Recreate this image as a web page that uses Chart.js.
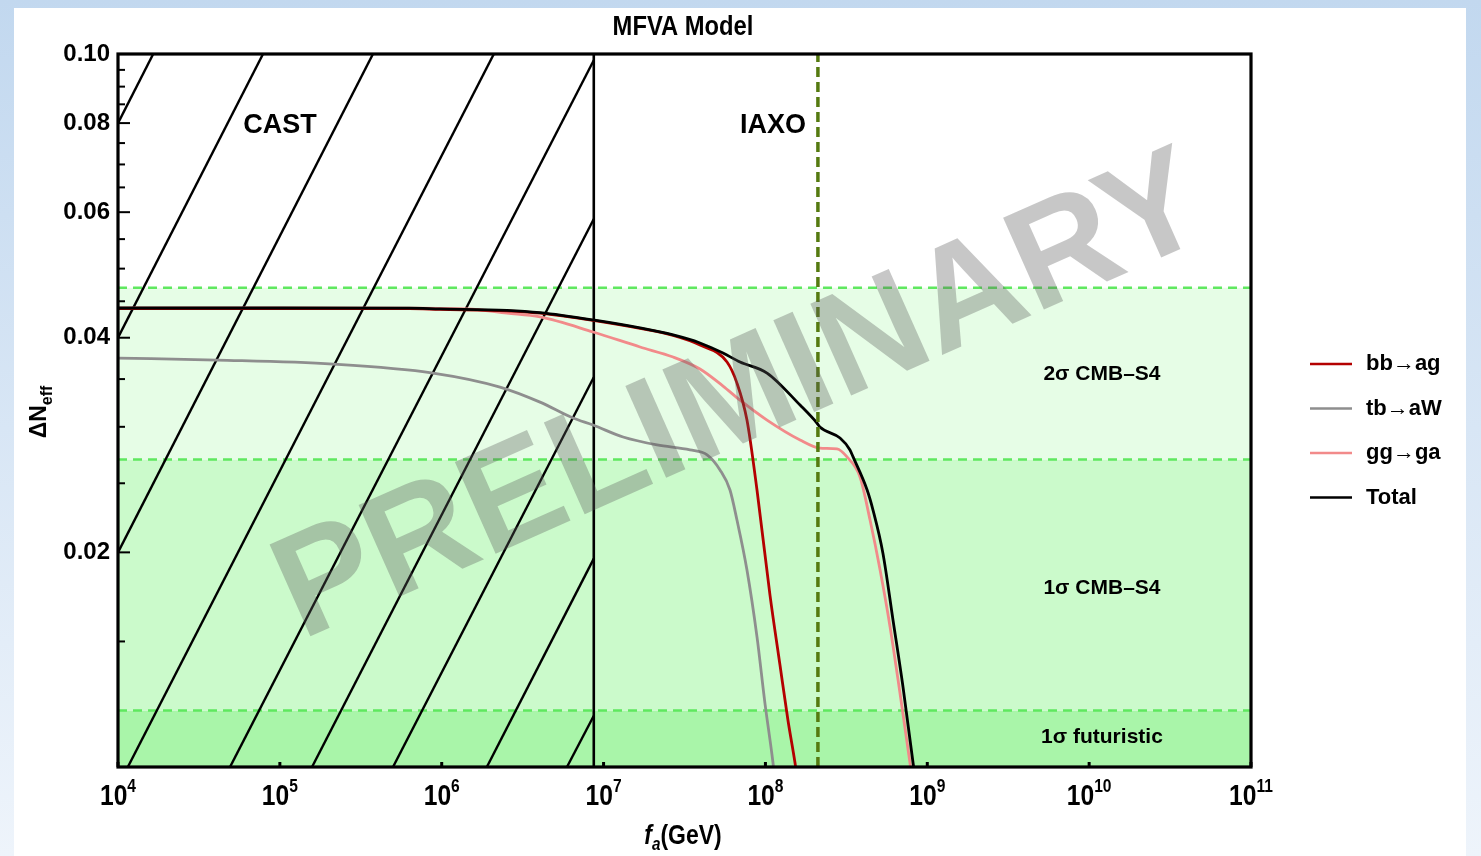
<!DOCTYPE html>
<html>
<head>
<meta charset="utf-8">
<script src="https://cdn.jsdelivr.net/npm/chart.js@4.4.0/dist/chart.umd.min.js"></script>
<style>
html,body{margin:0;padding:0;}
body{width:1481px;height:856px;overflow:hidden;position:relative;background:linear-gradient(to bottom,#c2d8ef,#eef4fb);}
#sheet{position:absolute;left:14px;top:8px;width:1452px;height:848px;background:#fff;}
#chartMFVA{position:absolute;left:0;top:0;}
</style>
</head>
<body>
<div id="sheet"></div>
<canvas id="chartMFVA" width="1481" height="856"></canvas>
<script>
// curvas (f_a en GeV, Delta N_eff)
var faTotal=[1e4,1e5,6.31e5,9.75e5,2.53e6,4.05e6,8.61e6,1.68e7,2.69e7,3.94e7,5.47e7,6.97e7,1.023e8,1.637e8,2.08e8,2.17e8,2.89e8,3.33e8,3.48e8,4.25e8,4.62e8,5.32e8,6.14e8,7.08e8,8.17e8,8.51e8];
var dnTotal=[0.04403,0.04403,0.0440,0.0439,0.0437,0.04337,0.04236,0.04128,0.04036,0.03933,0.03807,0.03698,0.03569,0.03218,0.03037,0.02998,0.02893,0.02784,0.02722,0.02446,0.02293,0.01995,0.01608,0.01295,0.01013,0.0095];
var faBb=[1e4,1e5,6.31e5,9.75e5,2.53e6,4.05e6,8.61e6,1.68e7,2.69e7,3.94e7,5.79e7,6.67e7,7.69e7,8.87e7,1.067e8,1.230e8,1.377e8,1.524e8,1.585e8];
var dnBb=[0.04396,0.04396,0.04393,0.04383,0.04363,0.0433,0.0423,0.04122,0.0403,0.03907,0.03698,0.03455,0.03066,0.02446,0.01742,0.01390,0.01164,0.01013,0.0095];
var faGg=[1e4,1e5,6.31e5,1.43e6,2.53e6,4.05e6,8.61e6,1.68e7,2.69e7,3.94e7,5.47e7,6.97e7,1.023e8,1.637e8,2.17e8,2.77e8,3.19e8,3.84e8,4.43e8,5.11e8,5.89e8,6.78e8,7.82e8,8.13e8];
var dnGg=[0.04403,0.04403,0.0440,0.0439,0.0433,0.04277,0.04075,0.03882,0.03758,0.03616,0.03422,0.03270,0.03066,0.02875,0.02801,0.02793,0.02722,0.02551,0.02220,0.01889,0.01572,0.01270,0.01013,0.0095];
var faTb=[1e4,4.09e4,2.13e5,8.83e5,2.29e6,4.05e6,6.47e6,8.61e6,1.32e7,2.14e7,3.42e7,4.36e7,5.24e7,6.04e7,6.67e7,7.69e7,8.87e7,9.93e7,1.114e8,1.148e8];
var dnTb=[0.03746,0.03722,0.03674,0.03569,0.03411,0.03249,0.03086,0.03017,0.02903,0.02829,0.02784,0.02740,0.02610,0.02446,0.02220,0.01889,0.01522,0.01229,0.01013,0.0095];

// bandas CMB-S4 y limites experimentales
var bandX=[1e4,1e11];
var bandEdges=[0.047,0.027,0.012];
var bandNames=['2\u03c3 CMB\u2013S4','1\u03c3 CMB\u2013S4','1\u03c3 futuristic'];
var castLimit=8.7e6;
var iaxoLimit=2.11e8;
var hatchFa=[[1e4,1.65e4],[1e4,7.87e4],[1e4,3.76e5],[1.15e4,2.10e6],[4.92e4,8.7e6],[1.58e5,8.7e6],[5.0e5,8.7e6],[1.9e6,8.7e6],[5.94e6,8.7e6]];
var hatchDn=[[0.08,0.1],[0.04,0.1],[0.02,0.1],[0.01,0.1],[0.01,0.098],[0.01,0.0587],[0.01,0.0352],[0.01,0.0196],[0.01,0.0118]];

// ejes
var xDecades=[1e4,1e5,1e6,1e7,1e8,1e9,1e10,1e11];
var xExp=['4','5','6','7','8','9','10','11'];
var yTicks=[0.01,0.015,0.02,0.025,0.03,0.035,0.04,0.045,0.05,0.055,0.06,0.065,0.07,0.075,0.08,0.085,0.09,0.095,0.1];
var yMajor=[0.02,0.04,0.06,0.08,0.1];
var yLabels=['0.02','0.04','0.06','0.08','0.10'];

var serieNames=['bb\u2192ag','tb\u2192aW','gg\u2192ga','Total'];
var serieColors=['#b40000','#8e8e8e','#f28a8a','#000000'];

var FONT="'Liberation Sans', Arial, sans-serif";

function pts(xs,ys){
	return xs.map(function(x,i){ return {x:x,y:ys[i]}; });
}

var datasets=[];
var bandColors=['#e6fde6','#cbfacb','#a9f5a9'];
var bandFill=['+1','+1','start'];
for(var b=0;b<bandEdges.length;b++){
	datasets.push({data:pts(bandX,[bandEdges[b],bandEdges[b]]),borderColor:'#5fe85f',borderWidth:2.5,borderDash:[9,6],
		backgroundColor:bandColors[b],fill:bandFill[b],pointRadius:0,order:50});
}
for(var h=0;h<hatchFa.length;h++){
	datasets.push({data:pts(hatchFa[h],hatchDn[h]),borderColor:'#000',borderWidth:2.4,fill:false,pointRadius:0,order:30});
}
datasets.push({data:pts([castLimit,castLimit],[0.01,0.1]),borderColor:'#000',borderWidth:2.6,fill:false,pointRadius:0,order:29});
datasets.push({data:pts([iaxoLimit,iaxoLimit],[0.01,0.1]),borderColor:'#557a10',borderWidth:3.5,borderDash:[10,5],fill:false,pointRadius:0,order:1});
var curves=[[faBb,dnBb,0,3],[faTb,dnTb,1,5],[faGg,dnGg,2,4],[faTotal,dnTotal,3,2]];
curves.forEach(function(c){
	datasets.push({label:serieNames[c[2]],data:pts(c[0],c[1]),borderColor:serieColors[c[2]],borderWidth:2.8,fill:false,
		pointRadius:0,cubicInterpolationMode:'monotone',order:c[3]});
});

function drawRich(ctx,parts,x,y,align,sx){
	// parts: [texto, fuente, dy]
	ctx.save();
	var w=0;
	parts.forEach(function(p){ ctx.font=p[1]; w+=ctx.measureText(p[0]).width; });
	ctx.translate(x,y);
	ctx.scale(sx||1,1);
	var cx=align=='center'?-w/2:0;
	ctx.textBaseline='alphabetic';
	ctx.textAlign='left';
	parts.forEach(function(p){ ctx.font=p[1]; ctx.fillText(p[0],cx,p[2]||0); cx+=ctx.measureText(p[0]).width; });
	ctx.restore();
}

var decoPlugin={
	id:'deco',
	afterDatasetsDraw:function(chart){
		var ctx=chart.ctx, a=chart.chartArea, xs=chart.scales.x, ys=chart.scales.y;
		ctx.save();
		// marco
		ctx.strokeStyle='#000';
		ctx.lineWidth=3.2;
		ctx.strokeRect(a.left,a.top,a.right-a.left,a.bottom-a.top);
		// ticks internos
		ctx.lineWidth=2;
		yTicks.forEach(function(v){
			var py=ys.getPixelForValue(v);
			var len=yMajor.indexOf(v)>=0?12:7;
			ctx.beginPath(); ctx.moveTo(a.left,py); ctx.lineTo(a.left+len,py); ctx.stroke();
		});
		ctx.lineWidth=3;
		xDecades.forEach(function(v){
			var px=xs.getPixelForValue(v);
			ctx.beginPath(); ctx.moveTo(px,a.bottom); ctx.lineTo(px,a.bottom-5); ctx.stroke();
		});
		// marca de agua
		ctx.save();
		ctx.translate(742,400);
		ctx.rotate(-24*Math.PI/180);
		ctx.font='bold 146px '+FONT;
		ctx.fillStyle='rgba(90,90,90,0.34)';
		ctx.textAlign='center';
		ctx.textBaseline='middle';
		ctx.fillText('PRELIMINARY',0,0);
		ctx.restore();
		// etiquetas
		ctx.fillStyle='#000';
		ctx.textAlign='center';
		ctx.textBaseline='middle';
		ctx.font='bold 27px '+FONT;
		ctx.fillText('CAST',280,126);
		ctx.fillText('IAXO',773,126);
		ctx.font='bold 21px '+FONT;
		var bx=xs.getPixelForValue(1.2e10);
		var bandLabelDn=[0.0356,0.0178,0.0110];
		for(var i=0;i<bandNames.length;i++){
			ctx.fillText(bandNames[i],bx,ys.getPixelForValue(bandLabelDn[i]));
		}
		ctx.restore();
	},
	afterDraw:function(chart){
		var ctx=chart.ctx, xs=chart.scales.x;
		ctx.save();
		ctx.fillStyle='#000';
		// titulo
		drawRich(ctx,[['MFVA Model','bold 27px '+FONT]],683,35,'center',0.88);
		// etiquetas eje x
		xDecades.forEach(function(v,i){
			drawRich(ctx,[['10','bold 30px '+FONT,0],[xExp[i],'bold 19px '+FONT,-13]],xs.getPixelForValue(v),805,'center',0.82);
		});
		// titulo eje x
		drawRich(ctx,[['f','italic bold 27px '+FONT,0],['a','italic bold 18px '+FONT,6],['(GeV)','bold 27px '+FONT,0]],683,844,'center',0.85);
		// titulo eje y
		ctx.save();
		ctx.translate(46,412);
		ctx.rotate(-Math.PI/2);
		drawRich(ctx,[['\u0394N','bold 23px '+FONT,0],['eff','bold 16px '+FONT,6]],0,0,'center',1);
		ctx.restore();
		// leyenda
		for(var k=0;k<serieNames.length;k++){
			var ly=364+k*44.5;
			ctx.strokeStyle=serieColors[k];
			ctx.lineWidth=2.6;
			ctx.beginPath(); ctx.moveTo(1310,ly); ctx.lineTo(1352,ly); ctx.stroke();
			ctx.font='bold 22px '+FONT;
			ctx.textAlign='left';
			ctx.textBaseline='middle';
			ctx.fillText(serieNames[k],1366,ly);
		}
		ctx.restore();
	}
};

var chartMFVA=new Chart(document.getElementById('chartMFVA'),{
	type:'line',
	data:{datasets:datasets},
	options:{
		responsive:false,
		animation:false,
		layout:{padding:{left:0,right:230,top:54,bottom:0}},
		plugins:{
			legend:{display:false},
			tooltip:{enabled:false},
			filler:{drawTime:'beforeDatasetsDraw'}
		},
		scales:{
			x:{
				type:'logarithmic',min:1e4,max:1e11,
				grid:{display:false},border:{display:false},
				ticks:{display:false},
				afterFit:function(s){ s.height=89; }
			},
			y:{
				type:'logarithmic',min:0.01,max:0.1,
				grid:{display:false},border:{display:false},
				afterBuildTicks:function(s){ s.ticks=yTicks.map(function(v){ return {value:v}; }); },
				afterFit:function(s){ s.width=118; },
				ticks:{autoSkip:false,padding:0,color:'#000',font:{family:FONT,size:24,weight:'bold'},
					callback:function(v){ var i=yMajor.indexOf(v); return i<0?'':yLabels[i]; }}
			}
		}
	},
	plugins:[decoPlugin]
});
</script>
</body>
</html>
